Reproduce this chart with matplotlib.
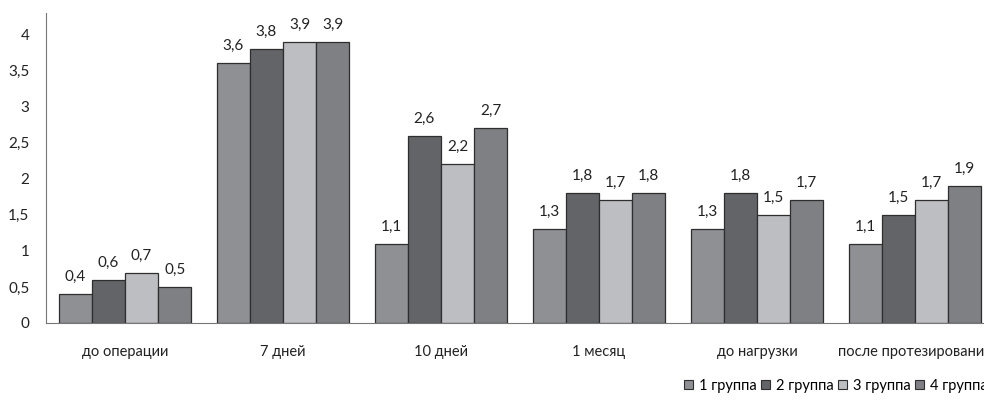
import matplotlib
matplotlib.use("Agg")
import matplotlib.pyplot as plt
from matplotlib.patches import Patch
import numpy as np

categories = ["до операции", "7 дней", "10 дней", "1 месяц", "до нагрузки", "после протезирования"]
series_names = ["1 группа", "2 группа", "3 группа", "4 группа"]
group1 = [0.4, 3.6, 1.1, 1.3, 1.3, 1.1]
group2 = [0.6, 3.8, 2.6, 1.8, 1.8, 1.5]
group3 = [0.7, 3.9, 2.2, 1.7, 1.5, 1.7]
group4 = [0.5, 3.9, 2.7, 1.8, 1.7, 1.9]
y_ticks = [0, 0.5, 1, 1.5, 2, 2.5, 3, 3.5, 4]

series = [group1, group2, group3, group4]
colors = ["#8f9094", "#636468", "#bdbec2", "#7f8084"]

plt.rcParams["font.family"] = ["Lato", "DejaVu Sans"]
fs = 10.5

fig = plt.figure(figsize=(9.84, 4.03), dpi=100)
ax = fig.add_axes([46 / 984, 80 / 403, 948 / 984, 310 / 403])

x = np.arange(len(categories))
bw = 0.21
for i, vals in enumerate(series):
    pos = x + (i - 1.5) * bw
    bars = ax.bar(pos, vals, width=bw, color=colors[i], edgecolor="#2e2e2e", linewidth=0.9)
    for b, v in zip(bars, vals):
        ax.text(b.get_x() + b.get_width() / 2, v + 0.14, f"{v:.1f}".replace(".", ","),
                ha="center", va="bottom", fontsize=fs + 0.5, color="#222222")

ax.set_xlim(-0.5, len(categories) - 0.5)
ax.set_ylim(0, 4.3)
ax.set_yticks(y_ticks)
ax.set_yticklabels([f"{t:g}".replace(".", ",") for t in y_ticks], fontsize=fs + 0.5, color="#222222")
ax.set_xticks(x)
ax.set_xticklabels(categories, fontsize=fs, color="#222222")
ax.tick_params(axis="both", length=0)
ax.tick_params(axis="y", pad=12)
ax.tick_params(axis="x", pad=16)
for s in ["top", "right"]:
    ax.spines[s].set_visible(False)
ax.spines["left"].set_color("#777777")
ax.spines["bottom"].set_color("#777777")

handles = [Patch(facecolor=c, edgecolor="#2e2e2e", linewidth=0.8) for c in colors]
fig.legend(handles, series_names, loc="center left", bbox_to_anchor=(677 / 984, 1 - 386 / 403),
           ncol=4, frameon=False, fontsize=fs, handlelength=0.6, handleheight=0.6,
           handletextpad=0.4, columnspacing=0.32, borderpad=0)

fig.savefig("out.png", dpi=100)
